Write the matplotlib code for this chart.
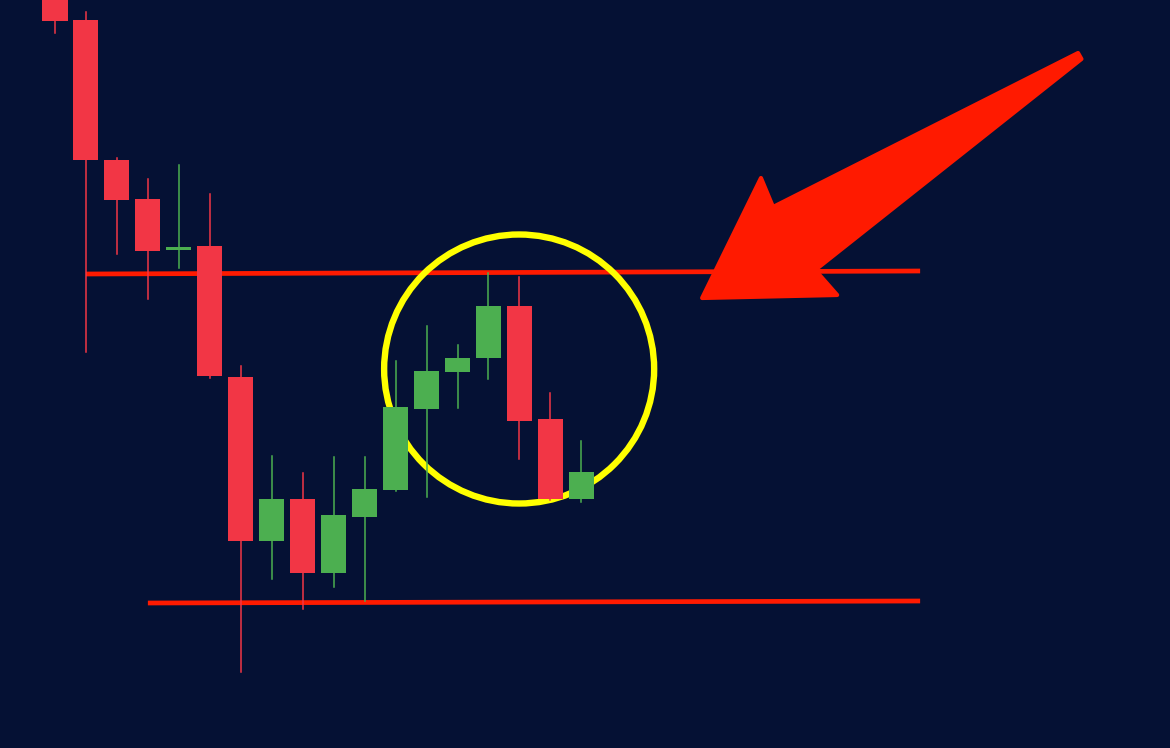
import matplotlib
matplotlib.use("Agg")
import matplotlib.pyplot as plt
from matplotlib.patches import Rectangle, Ellipse, Polygon

# candle data (arbitrary price units)
opens  = [75.1, 72.8, 58.8, 54.9, 49.8, 50.2, 37.1, 20.7, 24.9, 17.5, 23.1, 25.8, 33.9, 37.6, 39.0, 44.2, 32.9, 24.9]
closes = [72.7, 58.8, 54.8, 49.7, 50.1, 37.2, 20.7, 24.9, 17.5, 23.3, 25.9, 34.1, 37.7, 39.0, 44.2, 32.7, 24.9, 27.6]
highs  = [75.8, 73.6, 59.0, 56.9, 58.3, 55.4, 38.2, 29.2, 27.5, 29.1, 29.1, 38.7, 42.2, 40.3, 47.5, 47.1, 35.5, 30.7]
lows   = [71.5, 39.6, 49.4, 44.9, 48.0, 37.0,  7.6, 16.9, 13.9, 16.1, 14.7, 25.7, 25.1, 34.0, 36.9, 28.9, 24.8, 24.6]

# support / resistance lines: (x0, y0, x1, y1)
resistance = (1.0, 47.4, 27.94, 47.7)
support = (3.0, 14.5, 27.94, 14.7)

# highlight circle
circle_center = (14.99, 37.9)
circle_size = (8.72, 26.9)

# arrow outline
arrow_x = [33.04, 23.19, 22.80, 20.90, 25.26, 24.55, 33.15]
arrow_y = [69.5, 54.1, 57.0, 45.0, 45.3, 47.8, 68.9]

bg = "#051134"
up_col = "#4caf50"
down_col = "#f23645"
line_col = "#ff1a00"

fig = plt.figure(figsize=(11.7, 7.48), dpi=100)
fig.patch.set_facecolor(bg)
ax = fig.add_axes([0, 0, 1, 1])
ax.set_facecolor(bg)

body_w = 0.81
for i in range(len(opens)):
    o, c, h, l = opens[i], closes[i], highs[i], lows[i]
    col = up_col if c >= o else down_col
    ax.plot([i, i], [l, h], color=col, lw=1.1, zorder=3)
    bottom = min(o, c)
    height = max(abs(c - o), 0.25)
    ax.add_patch(Rectangle((i - body_w / 2, bottom), body_w, height,
                           facecolor=col, edgecolor="none", zorder=4))

for x0, y0, x1, y1 in [resistance, support]:
    ax.plot([x0, x1], [y0, y1], color=line_col, lw=3.4, solid_capstyle="butt", zorder=2)

ax.add_patch(Ellipse(circle_center, circle_size[0], circle_size[1], fill=False,
                     edgecolor="#ffff00", lw=4.6, zorder=2.5))

ax.add_patch(Polygon(list(zip(arrow_x, arrow_y)), closed=True, facecolor=line_col,
                     edgecolor=line_col, lw=3, joinstyle="round", zorder=5))

ax.set_xlim(-1.776, 36.01)
ax.set_ylim(0, 74.8)
ax.axis("off")

fig.savefig("out.png", dpi=100, facecolor=bg)
